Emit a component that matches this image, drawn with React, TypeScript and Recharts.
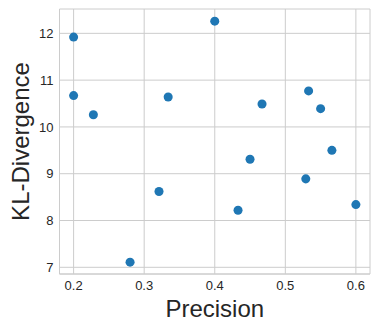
import React from "react";

import {
  CartesianGrid,
  Scatter,
  ScatterChart,
  XAxis,
  YAxis,
  ZAxis,
} from "recharts";

const precision = [
  0.2, 0.2, 0.228, 0.334, 0.4, 0.467, 0.533, 0.55, 0.566, 0.45, 0.529, 0.433,
  0.6, 0.321, 0.28,
];
const klDivergence = [
  11.92, 10.67, 10.26, 10.64, 12.26, 10.49, 10.77, 10.39, 9.5, 9.31, 8.89, 8.22,
  8.34, 8.62, 7.11,
];
const xTicks = [0.2, 0.3, 0.4, 0.5, 0.6];
const yTicks = [7, 8, 9, 10, 11, 12];
const xDomain = [0.18, 0.62];
const yDomain = [6.857, 12.52];

const points = precision.map((p, i) => ({ precision: p, kl: klDivergence[i] }));

const font = "'Liberation Sans', Arial, sans-serif";
const textColor = "#262626";
const gridColor = "#cccccc";

function XLabel({ viewBox }: any) {
  const cx = viewBox.x + viewBox.width / 2;
  return (
    <text x={cx} y={viewBox.y + 43} textAnchor="middle" fontSize={24} fontFamily={font} fill={textColor}>
      Precision
    </text>
  );
}

function YLabel({ viewBox }: any) {
  const x = 29;
  const cy = viewBox.y + viewBox.height / 2;
  return (
    <text
      x={x}
      y={cy}
      transform={`rotate(-90, ${x}, ${cy})`}
      textAnchor="middle"
      fontSize={24}
      fontFamily={font}
      fill={textColor}
    >
      KL-Divergence
    </text>
  );
}

export default function App() {
  const tickStyle = { fontSize: 13, fontFamily: font, fill: textColor };
  return (
    <div style={{ position: "fixed", left: 0, top: 0, background: "#fff" }}>
      <ScatterChart width={378} height={331} margin={{ top: 9, right: 8, bottom: 0, left: 0 }}>
        <CartesianGrid stroke={gridColor} strokeWidth={1} />
        <XAxis
          type="number"
          dataKey="precision"
          domain={xDomain}
          ticks={xTicks}
          allowDataOverflow
          height={57}
          tickLine={false}
          tickSize={0}
          tickMargin={7}
          axisLine={{ stroke: gridColor }}
          tick={tickStyle}
          tickFormatter={(v: number) => v.toFixed(1)}
          label={<XLabel />}
        />
        <XAxis
          xAxisId="top"
          orientation="top"
          type="number"
          domain={xDomain}
          allowDataOverflow
          height={0}
          tick={false}
          tickLine={false}
          axisLine={{ stroke: gridColor }}
        />
        <YAxis
          type="number"
          dataKey="kl"
          domain={yDomain}
          ticks={yTicks}
          allowDataOverflow
          width={59.5}
          tickLine={false}
          tickSize={0}
          tickMargin={6}
          axisLine={{ stroke: gridColor }}
          tick={tickStyle}
          label={<YLabel />}
        />
        <YAxis
          yAxisId="right"
          orientation="right"
          type="number"
          domain={yDomain}
          allowDataOverflow
          width={0}
          tick={false}
          tickLine={false}
          axisLine={{ stroke: gridColor }}
        />
        <ZAxis range={[78, 78]} />
        <Scatter data={points} fill="#1f77b4" isAnimationActive={false} />
      </ScatterChart>
    </div>
  );
}
